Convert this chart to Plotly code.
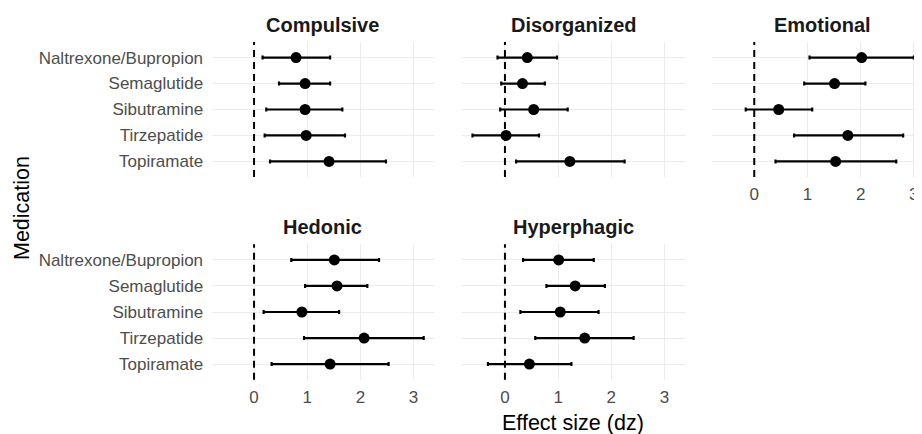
import plotly.graph_objects as go

medications = ["Naltrexone/Bupropion", "Semaglutide", "Sibutramine", "Tirzepatide", "Topiramate"]
panels = ["Compulsive", "Disorganized", "Emotional", "Hedonic", "Hyperphagic"]

est = {
    "Compulsive":   [0.79, 0.96, 0.96, 0.98, 1.41],
    "Disorganized": [0.42, 0.33, 0.54, 0.02, 1.22],
    "Emotional":    [2.02, 1.51, 0.46, 1.76, 1.53],
    "Hedonic":      [1.51, 1.56, 0.90, 2.07, 1.43],
    "Hyperphagic":  [1.01, 1.32, 1.04, 1.50, 0.46],
}
lo = {
    "Compulsive":   [0.16, 0.47, 0.23, 0.20, 0.30],
    "Disorganized": [-0.14, -0.07, -0.09, -0.61, 0.21],
    "Emotional":    [1.04, 0.94, -0.16, 0.75, 0.40],
    "Hedonic":      [0.70, 0.96, 0.18, 0.94, 0.33],
    "Hyperphagic":  [0.34, 0.78, 0.29, 0.57, -0.32],
}
hi = {
    "Compulsive":   [1.43, 1.43, 1.66, 1.71, 2.48],
    "Disorganized": [0.98, 0.75, 1.18, 0.64, 2.25],
    "Emotional":    [3.00, 2.09, 1.09, 2.80, 2.67],
    "Hedonic":      [2.35, 2.13, 1.60, 3.19, 2.53],
    "Hyperphagic":  [1.67, 1.88, 1.76, 2.42, 1.25],
}
x_ticks = [0, 1, 2, 3]

OFF = 8  # page body margin
W, H = 922 - OFF, 434 - OFF
FONT = "Liberation Sans, Arial, sans-serif"

# panel placement (screen pixels)
col_px = [(211.5, 433.8), (462.4, 684.8), (711.7, 922.0)]
row_px = [(42.0, 177.0), (244.3, 379.7)]
grid = {"Compulsive": (0, 0), "Disorganized": (0, 1), "Emotional": (0, 2),
        "Hedonic": (1, 0), "Hyperphagic": (1, 1)}


def fx(px):
    return (px - OFF) / W


def fy(py):
    return 1 - (py - OFF) / H


all_lo = min(min(v) for v in lo.values())
all_hi = max(max(v) for v in hi.values())
span = all_hi - all_lo
xr = [all_lo - 0.05 * span, all_hi + 0.05 * span]
px_per_unit = (col_px[0][1] - col_px[0][0]) / (xr[1] - xr[0])

fig = go.Figure()
layout = dict(
    width=W, height=H, margin=dict(l=0, r=0, t=0, b=0),
    paper_bgcolor="white", plot_bgcolor="white",
    showlegend=False, font=dict(family=FONT, color="#4D4D4D", size=17),
)
annotations = []
shapes = []
cat_order = medications[::-1]

for i, p in enumerate(panels):
    r, c = grid[p]
    n = "" if i == 0 else str(i + 1)
    xa, ya = "x" + n, "y" + n
    fig.add_trace(go.Scatter(
        x=est[p], y=medications, xaxis=xa, yaxis=ya, mode="markers",
        marker=dict(color="black", size=11),
        error_x=dict(type="data", symmetric=False,
                     array=[h - e for h, e in zip(hi[p], est[p])],
                     arrayminus=[e - l for e, l in zip(est[p], lo[p])],
                     color="black", thickness=2.2, width=2),
        hoverinfo="skip",
    ))
    x0, x1 = col_px[c]
    y0, y1 = row_px[r]
    rng = [xr[0], xr[0] + (x1 - x0) / px_per_unit]
    show_x = (r == 1) or (p == "Emotional")
    layout["xaxis" + n] = dict(
        domain=[fx(x0), min(1.0, fx(x1))], range=rng, anchor=ya,
        tickvals=x_ticks, showticklabels=show_x,
        showgrid=True, gridcolor="#EBEBEB", gridwidth=1,
        zeroline=False, showline=False,
        ticks="outside", ticklen=2, tickcolor="rgba(0,0,0,0)",
        tickfont=dict(size=17, color="#4D4D4D"),
    )
    layout["yaxis" + n] = dict(
        domain=[fy(y1), fy(y0)], anchor=xa,
        type="category", categoryorder="array", categoryarray=cat_order,
        range=[-0.6, 4.6], showticklabels=(c == 0),
        showgrid=True, gridcolor="#EBEBEB", gridwidth=1,
        zeroline=False, showline=False,
        ticks="outside", ticklen=4, tickcolor="rgba(0,0,0,0)",
        tickfont=dict(size=17, color="#4D4D4D"),
    )
    shapes.append(dict(type="line", xref=xa, yref=ya + " domain",
                       x0=0, x1=0, y0=0, y1=1,
                       line=dict(color="black", width=2, dash="7px,5px"), layer="above"))
    annotations.append(dict(
        text="<b>" + p + "</b>", xref="paper", yref="paper",
        x=fx(x0 + (col_px[0][1] - col_px[0][0]) / 2),
        y=fy(y0 - 17), showarrow=False,
        font=dict(size=20, color="#1A1A1A", family=FONT),
        xanchor="center", yanchor="middle",
    ))

annotations.append(dict(text="Effect size (dz)", xref="paper", yref="paper",
                        x=fx(573), y=fy(423), showarrow=False,
                        font=dict(size=21.5, color="black", family=FONT),
                        xanchor="center", yanchor="middle"))
annotations.append(dict(text="Medication", xref="paper", yref="paper",
                        x=fx(22), y=fy(208), showarrow=False, textangle=-90,
                        font=dict(size=21.5, color="black", family=FONT),
                        xanchor="center", yanchor="middle"))
layout["annotations"] = annotations
layout["shapes"] = shapes
fig.update_layout(**layout)
fig.write_html("out.html")
